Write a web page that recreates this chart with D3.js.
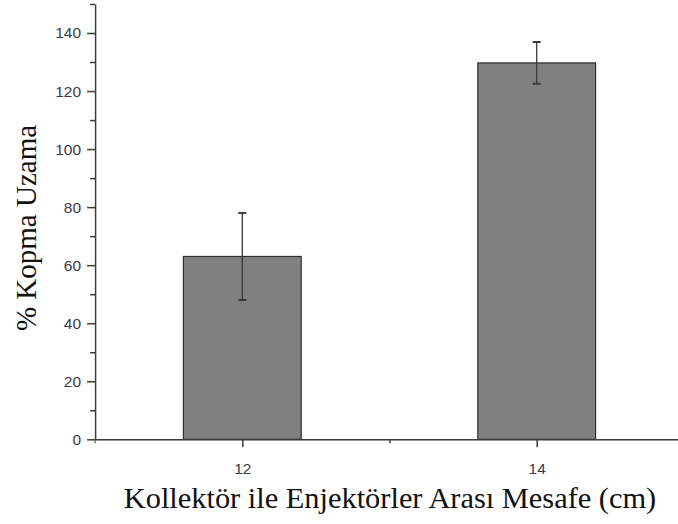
<!DOCTYPE html>
<html>
<head>
<meta charset="utf-8">
<script src="https://cdn.jsdelivr.net/npm/d3@7"></script>
<style>
	html, body { margin: 0; padding: 0; background: #fff; }
	svg { display: block; }
	.tick-label { font-family: "Liberation Sans", Arial, sans-serif; font-size: 15.5px; fill: #3a3a48; }
	.axis-title { font-family: "Liberation Serif", "Times New Roman", serif; font-size: 29px; fill: #111; }
</style>
</head>
<body>
<script>
// values
const distances = [12, 14];
const elongation = [63.0, 129.7];
const elongation_err = [15.0, 7.2];
const x_major_ticks = [12, 14];
const x_minor_ticks = [13];
const y_major_ticks = [0, 20, 40, 60, 80, 100, 120, 140];
const y_minor_ticks = [10, 30, 50, 70, 90, 110, 130, 150];
const x_title = 'Kollektör ile Enjektörler Arası Mesafe (cm)';
const y_title = '% Kopma Uzama';

const WIDTH = 678;
const HEIGHT = 524;
const AXIS_COLOR = '#3c3c3c';
const BAR_WIDTH = 0.8;

const svg = d3.select('body')
	.append('svg')
	.attr('width', WIDTH)
	.attr('height', HEIGHT);

const x = d3.scaleLinear().domain([11, 15]).range([95.1, 683.9]);
const y = d3.scaleLinear().domain([0, 150]).range([439.3, 4]);

const data = distances.map((d, i) => ({x: d, y: elongation[i], err: elongation_err[i]}));

// bars
svg.append('g')
	.selectAll('rect')
	.data(data)
	.join('rect')
	.attr('x', d => x(d.x - BAR_WIDTH / 2))
	.attr('y', d => y(d.y))
	.attr('width', d => x(d.x + BAR_WIDTH / 2) - x(d.x - BAR_WIDTH / 2))
	.attr('height', d => y(0) - y(d.y))
	.attr('fill', '#808080')
	.attr('stroke', '#2e2e2e')
	.attr('stroke-width', 1.2);

// error bars
const err = svg.append('g')
	.attr('stroke', '#3a3a3a')
	.attr('stroke-width', 1.3);

err.selectAll('line.stem')
	.data(data)
	.join('line')
	.attr('class', 'stem')
	.attr('x1', d => x(d.x))
	.attr('x2', d => x(d.x))
	.attr('y1', d => y(d.y - d.err))
	.attr('y2', d => y(d.y + d.err));

err.selectAll('line.cap')
	.data(data.flatMap(d => [d.y - d.err, d.y + d.err].map(v => ({x: d.x, v}))))
	.join('line')
	.attr('class', 'cap')
	.attr('x1', d => x(d.x) - 4)
	.attr('x2', d => x(d.x) + 4)
	.attr('y1', d => y(d.v))
	.attr('y2', d => y(d.v))
	.attr('stroke-width', 2);

// x axis
const x_axis = svg.append('g')
	.attr('transform', `translate(0,${y(0)})`);

x_axis.append('g')
	.call(d3.axisBottom(x).tickValues(x_major_ticks).tickFormat(d3.format('d')).tickSize(8).tickPadding(16).tickSizeOuter(0))
	.call(g => g.selectAll('text').attr('class', 'tick-label').attr('font-size', null).attr('font-family', null));

x_axis.append('g')
	.call(d3.axisBottom(x).tickValues(x_minor_ticks).tickSize(4).tickFormat('').tickSizeOuter(0))
	.call(g => g.select('.domain').remove());

// y axis
const y_axis = svg.append('g')
	.attr('transform', `translate(${x(11)},0)`);

y_axis.append('g')
	.call(d3.axisLeft(y).tickValues(y_major_ticks).tickFormat(d3.format('d')).tickSize(8).tickPadding(6).tickSizeOuter(0))
	.call(g => g.selectAll('text').attr('class', 'tick-label').attr('font-size', null).attr('font-family', null));

y_axis.append('g')
	.call(d3.axisLeft(y).tickValues(y_minor_ticks).tickSize(5).tickFormat('').tickSizeOuter(0))
	.call(g => g.select('.domain').remove());

// small stub below the origin
y_axis.append('line')
	.attr('y1', y(0))
	.attr('y2', y(0) + 4)
	.attr('stroke', AXIS_COLOR);

svg.selectAll('.domain, .tick line')
	.attr('stroke', AXIS_COLOR)
	.attr('stroke-width', 1.5);

// titles
svg.append('text')
	.attr('class', 'axis-title')
	.attr('x', 390)
	.attr('y', 508)
	.attr('text-anchor', 'middle')
	.style('font-size', '30.4px')
	.text(x_title);

svg.append('text')
	.attr('class', 'axis-title')
	.attr('transform', 'translate(36,228) rotate(-90)')
	.attr('text-anchor', 'middle')
	.text(y_title);
</script>
</body>
</html>
